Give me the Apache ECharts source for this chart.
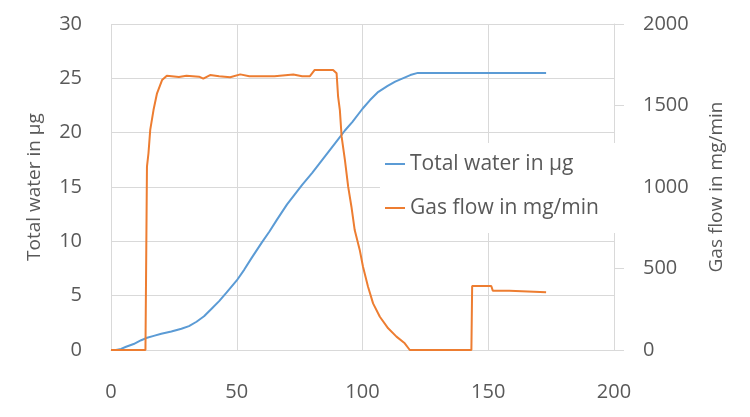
<!DOCTYPE html>
<html>
<head>
<meta charset="utf-8">
<title>Total water and gas flow</title>
<script src="https://cdn.jsdelivr.net/npm/echarts@6/dist/echarts.min.js"></script>
<style>
  html, body { margin: 0; padding: 0; background: #fff; }
  #chart { width: 750px; height: 417px; }
</style>
</head>
<body>
<div id="chart"></div>
<script>
// time values (x) and readings
const waterX = [0, 2, 4, 6, 9, 12, 14, 17, 20, 24, 28, 31, 34, 37, 40, 43, 46, 50, 53, 56, 60, 63, 66, 70, 73, 76, 80, 83, 86, 90, 93, 96, 100, 103, 106, 110, 113, 116, 119, 122, 173]
const waterY = [0, 0, 0.1, 0.3, 0.55, 0.9, 1.1, 1.3, 1.5, 1.7, 1.95, 2.2, 2.6, 3.1, 3.8, 4.5, 5.3, 6.4, 7.4, 8.5, 9.9, 10.9, 12.0, 13.4, 14.3, 15.2, 16.3, 17.2, 18.1, 19.3, 20.2, 21.0, 22.2, 23.0, 23.7, 24.3, 24.7, 25.0, 25.3, 25.5, 25.5]

const gasX = [0, 13.7, 14.3, 14.9, 15.6, 16.9, 18.3, 20.3, 22.2, 27, 30, 35, 36.7, 39.4, 43, 47.4, 51.4, 55, 65, 72.5, 76, 79.1, 81, 88.3, 89.7, 90.3, 91.0, 91.7, 93.0, 94.3, 95.6, 96.9, 98.9, 100.2, 102.2, 104.2, 106.9, 110.2, 113.5, 116.8, 118.8, 143.3, 143.6, 151.2, 151.8, 158.4, 159, 173]
const gasY = [0, 0, 1125, 1207, 1350, 1472, 1575, 1656, 1683, 1675, 1683, 1677, 1665, 1687, 1680, 1673, 1691, 1680, 1680, 1690, 1680, 1680, 1718, 1718, 1698, 1554, 1472, 1309, 1166, 1002, 879, 736, 614, 511, 388, 286, 204, 133, 82, 41, 0, 0, 393, 393, 364, 364, 354, 354]

const seriesNames = ['Total water in µg', 'Gas flow in mg/min']
const xTicks = { min: 0, max: 200, interval: 50 }
const waterTicks = { min: 0, max: 30, interval: 5 }
const gasTicks = { min: 0, max: 2000, interval: 500 }

const gridColor = '#D9D9D9'
const textColor = '#595959'
const font = '"Open Sans", "Noto Sans", sans-serif'

const chart = echarts.init(document.getElementById('chart'))

chart.setOption({
  animation: false,
  textStyle: { fontFamily: font },
  grid: {
    left: 111,
    right: 136,
    top: 24,
    bottom: 67
  },
  legend: {
    data: seriesNames,
    orient: 'vertical',
    left: 380,
    top: 143,
    backgroundColor: '#fff',
    padding: [9, 30, 13, 5],
    itemGap: 20,
    itemWidth: 20,
    itemHeight: 2,
    icon: 'rect',
    textStyle: {
      fontFamily: font,
      fontSize: 21,
      color: textColor,
      lineHeight: 24
    }
  },
  xAxis: {
    type: 'value',
    min: xTicks.min,
    max: xTicks.max,
    interval: xTicks.interval,
    axisLine: { show: true, lineStyle: { color: gridColor } },
    axisTick: { show: false },
    splitLine: { show: true, lineStyle: { color: gridColor } },
    axisLabel: { color: textColor, fontSize: 20, margin: 32, fontFamily: font }
  },
  yAxis: [
    {
      type: 'value',
      name: seriesNames[0],
      nameLocation: 'middle',
      nameGap: 67,
      nameTextStyle: { color: textColor, fontSize: 19, fontFamily: font },
      min: waterTicks.min,
      max: waterTicks.max,
      interval: waterTicks.interval,
      axisLine: { show: false },
      axisTick: { show: false },
      splitLine: { show: true, lineStyle: { color: gridColor } },
      axisLabel: { color: textColor, fontSize: 20, margin: 29, fontFamily: font }
    },
    {
      type: 'value',
      name: seriesNames[1],
      nameLocation: 'middle',
      nameGap: 93,
      nameTextStyle: { color: textColor, fontSize: 19, fontFamily: font },
      position: 'right',
      min: gasTicks.min,
      max: gasTicks.max,
      interval: gasTicks.interval,
      axisLine: { show: true, lineStyle: { color: gridColor } },
      axisTick: { show: true, length: 10, lineStyle: { color: gridColor } },
      splitLine: { show: false },
      axisLabel: {
        color: textColor,
        fontSize: 20,
        margin: 29,
        fontFamily: font,
        formatter: v => String(v)
      }
    }
  ],
  series: [
    {
      name: seriesNames[0],
      type: 'line',
      yAxisIndex: 0,
      showSymbol: false,
      symbol: 'none',
      lineStyle: { color: '#5B9BD5', width: 2 },
      itemStyle: { color: '#5B9BD5' },
      data: waterX.map((x, i) => [x, waterY[i]])
    },
    {
      name: seriesNames[1],
      type: 'line',
      yAxisIndex: 1,
      showSymbol: false,
      symbol: 'none',
      lineStyle: { color: '#ED7D31', width: 2 },
      itemStyle: { color: '#ED7D31' },
      data: gasX.map((x, i) => [x, gasY[i]])
    }
  ]
})
</script>
</body>
</html>
